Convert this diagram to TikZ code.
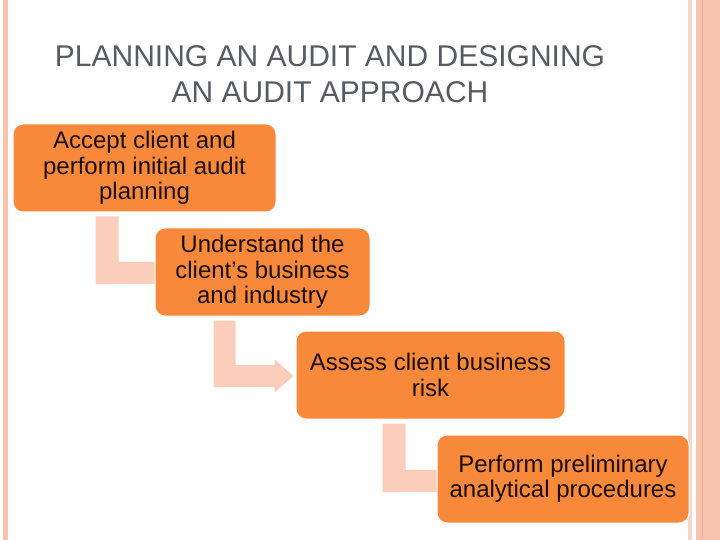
\documentclass[tikz,border=0pt]{standalone}
\usepackage{fontspec}
\setmainfont{Liberation Sans}
\usetikzlibrary{calc}
\definecolor{boxfill}{RGB}{249,137,58}
\definecolor{arrowc}{RGB}{251,206,188}
\definecolor{stripe}{RGB}{248,196,176}
\definecolor{stripedark}{RGB}{242,168,138}
\definecolor{titlec}{RGB}{88,92,98}
\definecolor{textc}{RGB}{25,12,5}
\tikzset{
  stepbox/.style={draw=white, line width=1pt, fill=boxfill, rounded corners=10pt,
    minimum height=88pt, inner sep=0pt, align=center, text=textc,
    font=\fontsize{24}{25.5}\selectfont},
  bent/.style={fill=arrowc, draw=none}
}
\begin{document}
\begin{tikzpicture}[x=1pt,y=-1pt]
\useasboundingbox (0,0) rectangle (720,540);
\fill[white] (0,0) rectangle (720,540);
% borders
\fill[stripe] (3,0) rectangle (8,540);
\fill[stripe!70!white] (688,0) rectangle (692,540);
\fill[stripe] (696,0) rectangle (720,540);
\fill[stripedark] (702,0) rectangle (703.2,540);
% title
\node[text=titlec, font=\fontsize{30}{36}\selectfont, align=center] (title) at (330,74)
  {PLANNING AN AUDIT AND DESIGNING\\AN AUDIT APPROACH};
% box positions
\coordinate (c1) at (144.5,168);
\coordinate (c2) at (262.5,272);
\coordinate (c3) at (430.5,375);
\coordinate (c4) at (563,479);
\path (c1) node[stepbox, minimum width=263pt] (b1) {};
\path (c2) node[stepbox, minimum width=215pt] (b2) {};
\path (c3) node[stepbox, minimum width=269pt] (b3) {};
\path (c4) node[stepbox, minimum width=252pt] (b4) {};
% bent arrows (boxes redrawn on top)
\fill[bent] let \p1=($(b1.south west)+(83,4)$), \p2=($(b2.west)+(2,1)$) in
  (\x1,\y1) -- (\x1+23pt,\y1) -- (\x1+23pt,\y2+11pt) -- (\x2,\y2+11pt) -- (\x2,\y2+16.5pt)
  -- (\x2+19pt,\y2) -- (\x2,\y2-16.5pt) -- (\x2,\y2-11pt) -- (\x1,\y2-11pt) -- cycle;
\fill[bent] let \p1=($(b2.south west)+(59,4)$), \p2=($(b3.west)+(-21,1)$) in
  (\x1,\y1) -- (\x1+22pt,\y1) -- (\x1+22pt,\y2+11pt) -- (\x2,\y2+11pt) -- (\x2,\y2+16.5pt)
  -- (\x2+19pt,\y2) -- (\x2,\y2-16.5pt) -- (\x2,\y2-11pt) -- (\x1,\y2-11pt) -- cycle;
\fill[bent] let \p1=($(b3.south west)+(87,4)$), \p2=($(b4.west)+(7,2)$) in
  (\x1,\y1) -- (\x1+23pt,\y1) -- (\x1+23pt,\y2+11pt) -- (\x2,\y2+11pt) -- (\x2,\y2+16.5pt)
  -- (\x2+19pt,\y2) -- (\x2,\y2-16.5pt) -- (\x2,\y2-11pt) -- (\x1,\y2-11pt) -- cycle;
% boxes with text on top
\node[stepbox, minimum width=263pt] (t1) at (c1) {Accept client and\\perform initial audit\\planning};
\node[stepbox, minimum width=215pt] (t2) at (c2) {Understand the\\client’s business\\and industry};
\node[stepbox, minimum width=269pt] (t3) at (c3) {Assess client business\\risk};
\node[stepbox, minimum width=252pt] (t4) at (c4) {Perform preliminary\\analytical procedures};
\end{tikzpicture}
\end{document}
